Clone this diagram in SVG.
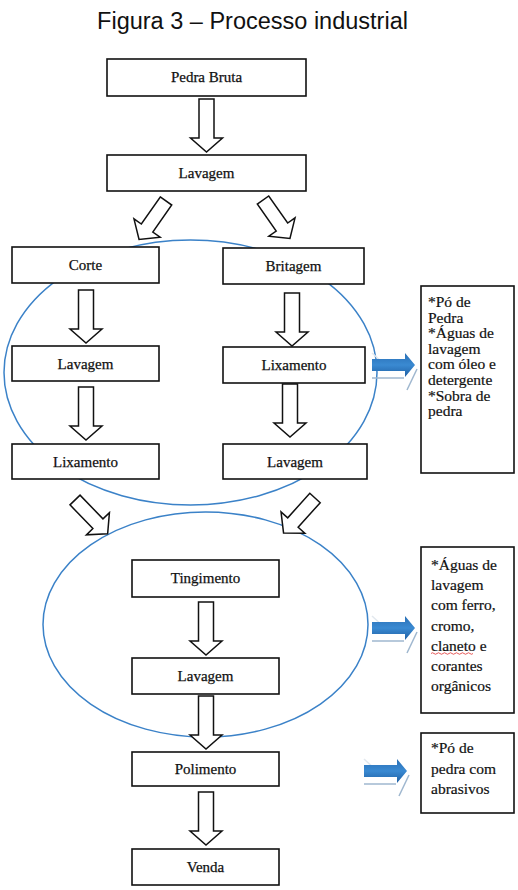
<svg xmlns="http://www.w3.org/2000/svg" width="518" height="890" viewBox="0 0 518 890">
<defs>
<style>
.box{fill:#fff;stroke:#111;stroke-width:1.6}
.lbl{font-size:15px;fill:#111;text-anchor:middle;stroke:#111;stroke-width:0.25}
.side{font-size:15.5px;fill:#111;stroke:#111;stroke-width:0.2}
.arr{fill:#fff;stroke:#111;stroke-width:1.5;stroke-linejoin:miter}
.ell{fill:none;stroke:#3b82c8;stroke-width:1.5}
.blue{fill:url(#bg)}
.shade{fill:none;stroke:#9fb7cf;stroke-width:1.5}
.shade2{fill:none;stroke:#e2e8ee;stroke-width:1.5}
</style>
<linearGradient id="bg" x1="0" y1="0" x2="0" y2="1">
<stop offset="0" stop-color="#2a6fb5"/>
<stop offset="0.5" stop-color="#3a8ad2"/>
<stop offset="1" stop-color="#1f5fa3"/>
</linearGradient>
<path id="va" d="M-7.5,0 H7.5 V39 H16 L0,53 L-16,39 H-7.5 Z"/>
<path id="da" d="M-7,0 H7 V33 H16 L0,47 L-16,33 H-7 Z"/>
<g id="ba">
<path class="shade2" d="M0,-12 L12,-1"/>
<path class="shade" d="M0,13 H32"/>
<path class="shade" d="M45,4 L35,25"/>
<path class="blue" d="M0,-6 H33 V-12 L43,0 L33,12 V6 H0 Z"/>
</g>
</defs>
<rect width="518" height="890" fill="#fff"/>
<text x="252.5" y="29" font-family="'Liberation Sans',Arial,sans-serif" font-size="23.5" text-anchor="middle" fill="#111">Figura 3 – Processo industrial</text>

<g id="ellipses">
<ellipse class="ell" cx="190.5" cy="372.5" rx="186.5" ry="132.5"/>
<ellipse class="ell" cx="205.5" cy="624.5" rx="162.5" ry="112.5"/>
</g>

<g id="connectors">
<use href="#va" class="arr" transform="translate(206.5,99)"/>
<use href="#da" class="arr" transform="translate(166,201) rotate(35)"/>
<use href="#da" class="arr" transform="translate(263,200) rotate(-35)"/>
<use href="#va" class="arr" transform="translate(86,290)"/>
<use href="#va" class="arr" transform="translate(86,387)"/>
<use href="#va" class="arr" transform="translate(292,293)"/>
<use href="#va" class="arr" transform="translate(290,384)"/>
<use href="#da" class="arr" transform="translate(75,500) rotate(-44)"/>
<use href="#da" class="arr" transform="translate(315,498) rotate(42)"/>
<use href="#va" class="arr" transform="translate(206,602)"/>
<use href="#va" class="arr" transform="translate(206,696)"/>
<use href="#va" class="arr" transform="translate(206,792)"/>
<use href="#ba" transform="translate(372,365)"/>
<use href="#ba" transform="translate(372,628)"/>
<use href="#ba" transform="translate(364,771)"/>
</g>

<g id="nodes" font-family="Liberation Serif, DejaVu Serif, serif">
<g id="n-pedra-bruta"><rect class="box" x="107" y="59" width="199" height="37"/><text class="lbl" x="206.5" y="82">Pedra Bruta</text></g>
<g id="n-lavagem1"><rect class="box" x="107" y="155" width="199" height="36"/><text class="lbl" x="206.5" y="178">Lavagem</text></g>
<g id="n-corte"><rect class="box" x="12" y="247" width="147" height="36"/><text class="lbl" x="85.5" y="270">Corte</text></g>
<g id="n-britagem"><rect class="box" x="223" y="248" width="141" height="36"/><text class="lbl" x="293.5" y="271">Britagem</text></g>
<g id="n-lavagem2"><rect class="box" x="12" y="346" width="147" height="35"/><text class="lbl" x="85.5" y="368.5">Lavagem</text></g>
<g id="n-lixamento1"><rect class="box" x="223" y="347" width="142" height="36"/><text class="lbl" x="294" y="370">Lixamento</text></g>
<g id="n-lixamento2"><rect class="box" x="12" y="444" width="147" height="35"/><text class="lbl" x="85.5" y="466.5">Lixamento</text></g>
<g id="n-lavagem3"><rect class="box" x="223" y="444" width="144" height="35"/><text class="lbl" x="295" y="466.5">Lavagem</text></g>
<g id="n-tingimento"><rect class="box" x="132" y="560" width="147" height="37"/><text class="lbl" x="205.5" y="583">Tingimento</text></g>
<g id="n-lavagem4"><rect class="box" x="132" y="658" width="147" height="36"/><text class="lbl" x="205.5" y="681">Lavagem</text></g>
<g id="n-polimento"><rect class="box" x="132" y="752" width="147" height="34"/><text class="lbl" x="205.5" y="774">Polimento</text></g>
<g id="n-venda"><rect class="box" x="132" y="849" width="147" height="36"/><text class="lbl" x="205.5" y="872">Venda</text></g>

<g id="n-residuos1"><rect class="box" x="421" y="286" width="93" height="187"/>
<text class="side"><tspan x="428" y="307">*Pó de</tspan><tspan x="428" y="322.6">Pedra</tspan><tspan x="428" y="338.2">*Águas de</tspan><tspan x="428" y="353.8">lavagem</tspan><tspan x="428" y="369.4">com óleo e</tspan><tspan x="428" y="385">detergente</tspan><tspan x="428" y="400.6">*Sobra de</tspan><tspan x="428" y="416.2">pedra</tspan></text></g>

<g id="n-residuos2"><rect class="box" x="421" y="547" width="93" height="166"/>
<text class="side"><tspan x="431" y="570">*Águas de</tspan><tspan x="431" y="590.2">lavagem</tspan><tspan x="431" y="610.4">com ferro,</tspan><tspan x="431" y="630.6">cromo,</tspan><tspan x="431" y="650.8">claneto e</tspan><tspan x="431" y="671">corantes</tspan><tspan x="431" y="691.2">orgânicos</tspan></text>
<path d="M431,653.5 q1.5,-1.5 3,0 t3,0 t3,0 t3,0 t3,0 t3,0 t3,0 t3,0 t3,0 t3,0 t3,0 t3,0 t3,0 t3,0" fill="none" stroke="#e03030" stroke-width="0.8"/></g>

<g id="n-residuos3"><rect class="box" x="421" y="733" width="93" height="80"/>
<text class="side"><tspan x="431" y="753">*Pó de</tspan><tspan x="431" y="773.5">pedra com</tspan><tspan x="431" y="794">abrasivos</tspan></text></g>
</g>
</svg>
